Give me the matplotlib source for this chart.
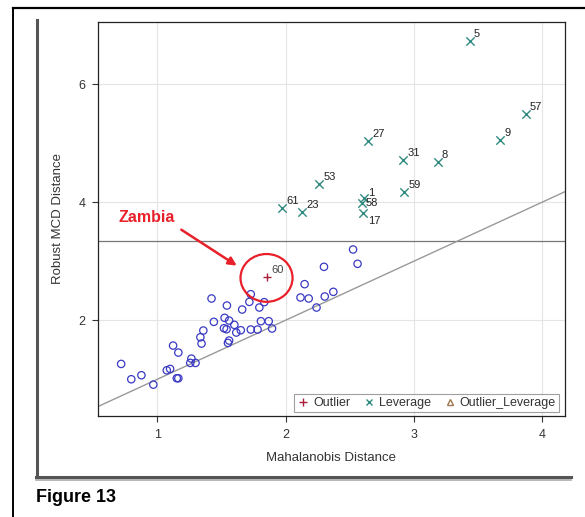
import numpy as np
import matplotlib.pyplot as plt
from matplotlib.lines import Line2D
from matplotlib.patches import Ellipse

# normal observations (blue circles)
norm_x = [0.717, 0.796, 0.875, 0.968, 1.073, 1.099, 1.151, 1.163, 1.122, 1.163,
          1.256, 1.265, 1.297, 1.335, 1.344, 1.358, 1.422, 1.440, 1.519, 1.524,
          1.539, 1.542, 1.559, 1.550, 1.559, 1.600, 1.615, 1.650, 1.661, 1.717,
          1.728, 1.728, 1.781, 1.795, 1.807, 1.833, 1.868, 1.894, 2.116, 2.148,
          2.180, 2.241, 2.299, 2.305, 2.372, 2.526, 2.561]
norm_y = [1.259, 0.999, 1.067, 0.908, 1.151, 1.174, 1.016, 1.016, 1.570, 1.451,
          1.276, 1.349, 1.276, 1.711, 1.604, 1.825, 2.368, 1.972, 1.864, 2.040,
          1.847, 2.249, 1.994, 1.615, 1.655, 1.921, 1.791, 1.830, 2.181, 2.311,
          2.441, 1.842, 1.842, 2.215, 1.983, 2.306, 1.983, 1.859, 2.385, 2.611,
          2.368, 2.215, 2.905, 2.402, 2.481, 3.199, 2.956]

# leverage points
lev_id = ['5', '57', '9', '27', '31', '8', '53', '59', '1', '58', '17', '61', '23']
lev_x = [3.435, 3.872, 3.674, 2.646, 2.917, 3.188, 2.264, 2.925, 2.611, 2.596, 2.605, 1.973, 2.130]
lev_y = [6.74, 5.49, 5.055, 5.04, 4.71, 4.676, 4.314, 4.17, 4.07, 3.98, 3.81, 3.91, 3.827]

# outlier
out_id = ['60']
out_x = [1.856]
out_y = [2.724]

cutoff = 3.344

blue = '#3a3ac4'
teal = '#2f8a80'
red = '#a8203a'
font = ['Liberation Sans Narrow', 'Liberation Sans', 'DejaVu Sans']
plt.rcParams['font.family'] = font

fig = plt.figure(figsize=(5.85, 5.17), dpi=100)
ax = fig.add_axes([0.167, 0.195, 0.799, 0.763])

ax.scatter(norm_x, norm_y, s=28, facecolors='none', edgecolors=blue, linewidths=0.9, zorder=3)
ax.scatter(lev_x, lev_y, s=36, marker='x', color=teal, linewidths=1.0, zorder=3)
ax.scatter(out_x, out_y, s=36, marker='+', color=red, linewidths=1.0, zorder=3)

for i, (x, y) in enumerate(zip(lev_x, lev_y)):
    off = (4, 7)
    if lev_id[i] == '58':
        off = (4, 0)
    elif lev_id[i] == '17':
        off = (5, -8)
    elif lev_id[i] == '1':
        off = (4, 5)
    ax.annotate(lev_id[i], (x, y), xytext=off, textcoords='offset pixels',
                fontsize=8, color='#222222', ha='left', va='center')
for x, y, t in zip(out_x, out_y, out_id):
    ax.annotate(t, (x, y), xytext=(4, 7), textcoords='offset pixels',
                fontsize=8, color='#444444', ha='left', va='center')

ax.axhline(cutoff, color='#777777', lw=0.9, zorder=2)
xx = np.array([0.5, 4.3])
ax.plot(xx, xx, color='#999999', lw=1.0, zorder=2)

ax.set_xlim(0.534, 4.18)
ax.set_ylim(0.373, 7.06)
ax.set_xticks([1, 2, 3, 4])
ax.set_yticks([2, 4, 6])
ax.grid(True, color='#e4e4e4', lw=0.8)
ax.set_axisbelow(True)
ax.tick_params(direction='out', length=4, width=0.8, labelsize=9, colors='#333333', pad=5)
for s in ax.spines.values():
    s.set_color('#222222')
    s.set_linewidth(0.9)
ax.set_xlabel('Mahalanobis Distance', fontsize=9.5, color='#333333', labelpad=8)
ax.set_ylabel('Robust MCD Distance', fontsize=9.5, color='#333333', labelpad=10)

# legend
h = [Line2D([], [], ls='none', marker='+', color=red, ms=6, mew=1.0),
     Line2D([], [], ls='none', marker='x', color=teal, ms=5, mew=1.0),
     Line2D([], [], ls='none', marker='^', mfc='none', mec='#a07850', ms=5, mew=1.0)]
leg = ax.legend(h, ['Outlier', 'Leverage', 'Outlier_Leverage'], loc='lower right',
                ncol=3, fontsize=9, frameon=True, fancybox=False, handletextpad=0.3,
                columnspacing=1.0, borderpad=0.25, handlelength=1.0,
                borderaxespad=0.3, bbox_to_anchor=(0.995, 0.0))
leg.get_frame().set_edgecolor('#888888')
leg.get_frame().set_linewidth(0.8)
for t in leg.get_texts():
    t.set_color('#333333')

# annotation
ax.text(0.70, 3.746, 'Zambia', color='#e8202a', fontsize=11.5, fontweight='bold',
        family=['Liberation Sans', 'DejaVu Sans'], ha='left', va='center')
ax.annotate('', xy=(1.637, 2.90), xytext=(1.168, 3.56),
            arrowprops=dict(arrowstyle='-|>', color='#e8202a', lw=1.8, mutation_scale=12))
ax.add_patch(Ellipse((1.851, 2.717), 0.406, 0.81, fill=False, ec='#e8202a', lw=1.6, zorder=4))

# page frame
W, H = 585.0, 517.0
def fl(x0, y0, x1, y1, **kw):
    fig.add_artist(Line2D([x0 / W, x1 / W], [1 - y0 / H, 1 - y1 / H], transform=fig.transFigure, **kw))
fl(13, 8, 585, 8, color='black', lw=1.6)
fl(13, 8, 13, 517, color='black', lw=1.4)
fl(37, 20, 37, 477, color='#555555', lw=2.2)
fl(36, 477, 571, 477, color='#555555', lw=2.2)
fl(36, 480, 571, 480, color='#aaaaaa', lw=1.2)

fig.text(36 / W, 1 - 498 / H, 'Figure 13', fontsize=13, fontweight='bold',
         family=['Liberation Sans', 'DejaVu Sans'], ha='left', va='center', color='black')

fig.savefig('out.png', dpi=100)
